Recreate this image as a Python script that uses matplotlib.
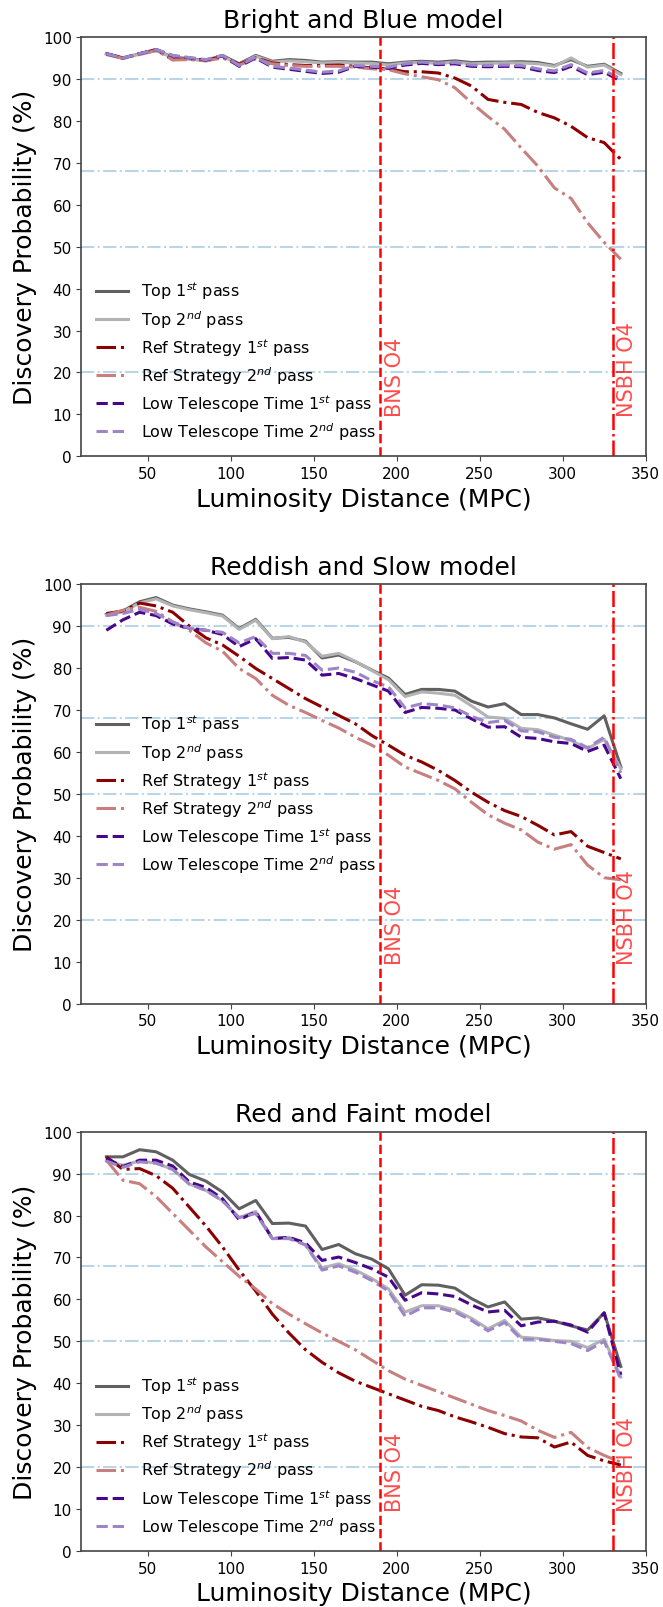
import matplotlib
matplotlib.use("Agg")
import matplotlib.pyplot as plt

# luminosity distance bins (MPC)
distance = [25, 35, 45, 55, 65, 75, 85, 95, 105, 115, 125, 135, 145, 155, 165, 175,
            185, 195, 205, 215, 225, 235, 245, 255, 265, 275, 285, 295, 305, 315, 325, 335]

titles = ["Bright and Blue model", "Reddish and Slow model", "Red and Faint model"]

# Bright and Blue
bb_top1 = [96.0, 94.9, 96.0, 96.8, 95.2, 94.8, 94.4, 95.6, 93.6, 95.6, 94.2, 94.6, 94.4, 94.0, 94.1, 94.0,
           94.0, 93.6, 94.0, 94.2, 94.0, 94.3, 93.9, 94.0, 94.0, 94.1, 93.9, 93.2, 94.6, 93.0, 93.5, 91.3]
bb_top2 = [95.9, 94.9, 95.9, 96.7, 95.1, 94.7, 94.3, 95.4, 93.4, 95.4, 94.0, 94.3, 94.1, 93.8, 93.9, 93.8,
           93.7, 93.3, 93.8, 93.9, 93.7, 94.0, 93.6, 93.7, 93.8, 93.8, 93.6, 93.0, 95.0, 92.8, 93.3, 91.0]
bb_ref1 = [96.0, 95.0, 96.0, 97.0, 94.6, 94.8, 94.5, 95.2, 93.5, 95.0, 93.8, 93.4, 93.2, 93.2, 93.3, 93.0,
           92.6, 92.4, 91.7, 91.7, 91.4, 90.2, 88.3, 85.1, 84.4, 83.9, 82.0, 80.7, 78.7, 76.0, 74.8, 70.8]
bb_ref2 = [95.8, 94.9, 95.8, 96.8, 94.5, 94.6, 94.3, 95.0, 93.3, 94.8, 93.6, 93.2, 93.0, 93.0, 93.0, 92.8,
           92.4, 92.2, 91.2, 90.5, 89.8, 87.9, 84.3, 81.0, 78.0, 73.5, 69.2, 64.0, 61.5, 55.7, 51.0, 47.0]
bb_low1 = [96.0, 95.0, 96.0, 97.0, 95.5, 95.0, 94.5, 95.5, 93.0, 95.0, 92.8, 92.3, 91.8, 91.3, 91.6, 93.0,
           92.8, 92.5, 93.3, 93.7, 93.4, 93.6, 93.0, 92.9, 93.0, 92.9, 92.0, 91.5, 93.0, 91.0, 91.6, 89.5]
bb_low2 = [96.0, 95.0, 96.0, 97.0, 95.6, 95.1, 94.6, 95.6, 93.2, 95.2, 93.0, 92.6, 92.1, 91.6, 91.9, 93.2,
           93.0, 92.8, 93.6, 94.0, 93.7, 93.9, 93.3, 93.2, 93.3, 93.2, 92.4, 91.9, 93.4, 91.4, 92.0, 90.0]

# Reddish and Slow
rs_top1 = [92.8, 93.6, 95.8, 96.8, 95.0, 94.1, 93.4, 92.6, 89.4, 91.6, 87.1, 87.3, 86.4, 82.4, 83.1, 81.5,
           79.5, 77.6, 73.7, 74.9, 74.9, 74.5, 72.1, 70.7, 71.5, 68.9, 68.9, 68.1, 66.7, 65.4, 68.6, 56.4]
rs_top2 = [92.6, 93.4, 95.5, 96.5, 94.8, 93.9, 93.2, 92.4, 89.2, 91.4, 87.0, 87.5, 86.2, 82.8, 83.5, 81.6,
           79.4, 77.2, 73.2, 74.3, 74.0, 73.5, 71.0, 68.3, 68.0, 65.6, 65.3, 64.0, 62.7, 60.8, 63.0, 56.0]
rs_ref1 = [93.0, 93.6, 95.5, 94.8, 93.3, 90.0, 87.2, 85.5, 82.8, 79.9, 77.5, 75.1, 72.7, 70.7, 68.7, 66.7,
           63.9, 61.6, 59.2, 57.6, 55.6, 53.2, 50.4, 48.0, 46.0, 44.6, 42.5, 40.2, 41.0, 37.5, 36.0, 34.5]
rs_ref2 = [92.6, 93.8, 94.5, 93.5, 91.0, 89.0, 86.0, 84.0, 79.9, 77.5, 73.5, 71.1, 69.4, 67.5, 65.7, 63.5,
           61.6, 59.2, 56.4, 54.8, 53.2, 51.2, 48.0, 45.0, 43.0, 41.4, 38.5, 36.8, 37.9, 33.0, 30.0, 29.5]
rs_low1 = [89.0, 91.5, 93.3, 92.5, 90.5, 89.5, 89.0, 88.0, 85.1, 87.0, 82.3, 82.5, 81.9, 78.3, 78.7, 77.5,
           76.0, 74.5, 69.4, 70.6, 70.4, 70.0, 67.9, 65.9, 66.0, 63.5, 63.2, 62.4, 62.0, 60.1, 61.6, 53.6]
rs_low2 = [92.5, 93.0, 94.0, 93.0, 91.0, 89.5, 89.0, 88.5, 86.0, 87.5, 83.5, 83.5, 83.0, 79.5, 80.0, 79.0,
           77.0, 75.5, 70.5, 71.5, 71.2, 70.5, 68.5, 67.0, 67.5, 65.0, 64.8, 63.5, 63.0, 61.0, 63.5, 55.0]

# Red and Faint
rf_top1 = [94.0, 94.0, 95.7, 95.2, 93.2, 89.8, 88.2, 85.6, 81.6, 83.6, 78.1, 78.2, 77.5, 71.9, 73.1, 70.9,
           69.6, 67.3, 61.0, 63.5, 63.4, 62.7, 60.2, 58.2, 59.4, 55.3, 55.6, 54.8, 53.7, 52.7, 56.8, 44.0]
rf_top2 = [93.0, 92.0, 93.0, 92.5, 91.0, 87.5, 86.0, 83.5, 79.5, 81.0, 74.5, 74.8, 73.0, 67.5, 68.5, 67.0,
           65.0, 62.5, 57.0, 58.5, 58.5, 57.5, 55.5, 53.0, 55.0, 51.0, 50.7, 50.2, 50.0, 48.5, 50.5, 41.5]
rf_ref1 = [94.0, 91.0, 91.2, 89.5, 86.5, 82.0, 77.5, 72.5, 67.0, 62.0, 56.5, 52.0, 48.0, 45.0, 42.5, 40.5,
           39.0, 37.5, 36.0, 34.5, 33.5, 32.0, 30.8, 29.5, 28.0, 27.2, 27.0, 24.8, 26.0, 22.8, 21.5, 20.5]
rf_ref2 = [93.2, 88.4, 87.6, 84.5, 80.5, 76.5, 72.5, 69.0, 65.5, 62.5, 59.0, 56.5, 54.2, 52.0, 50.0, 48.0,
           45.5, 43.0, 41.0, 39.5, 38.0, 36.5, 35.0, 33.5, 32.3, 31.0, 28.8, 27.1, 28.3, 24.7, 22.8, 21.2]
rf_low1 = [93.6, 91.7, 93.2, 93.2, 91.8, 88.0, 86.7, 84.0, 79.0, 80.9, 74.5, 74.8, 73.5, 69.3, 70.1, 68.8,
           67.3, 65.3, 59.8, 61.6, 61.3, 60.7, 58.7, 57.0, 57.4, 53.7, 54.6, 54.8, 53.9, 52.2, 56.8, 42.0]
rf_low2 = [93.0, 91.5, 92.8, 92.5, 91.0, 87.5, 86.0, 83.5, 79.5, 80.5, 74.5, 74.5, 73.0, 67.0, 68.0, 66.5,
           64.5, 62.0, 56.0, 58.0, 58.0, 57.0, 55.0, 52.5, 54.5, 50.5, 50.5, 50.0, 49.5, 47.8, 50.0, 41.0]

series_labels = ["Top 1$^{st}$ pass", "Top 2$^{nd}$ pass",
                 "Ref Strategy 1$^{st}$ pass", "Ref Strategy 2$^{nd}$ pass",
                 "Low Telescope Time 1$^{st}$ pass", "Low Telescope Time 2$^{nd}$ pass"]
reference_levels = [90, 68, 50, 20]
bns_range = 190
nsbh_range = 330

panels = [
    [bb_top1, bb_top2, bb_ref1, bb_ref2, bb_low1, bb_low2],
    [rs_top1, rs_top2, rs_ref1, rs_ref2, rs_low1, rs_low2],
    [rf_top1, rf_top2, rf_ref1, rf_ref2, rf_low1, rf_low2],
]
legend_locs = ["lower left", "center left", "lower left"]

colors = ["#606060", "#b3b3b3", "#8b0000", "#c77f7f", "#48068a", "#9d86c8"]
styles = ["-", "-", "-.", "-.", "--", "--"]

fig = plt.figure(figsize=(6.63, 16.08), dpi=100)
bottoms = [0.7156, 0.3753, 0.0348]

for k in range(3):
    ax = fig.add_axes([0.1229, bottoms[k], 0.851, 0.2608])
    for lev in reference_levels:
        ax.axhline(lev, color="#1f77b4", alpha=0.3, ls="-.", lw=1.5)
    for s in range(6):
        ax.plot(distance, panels[k][s], color=colors[s], ls=styles[s], lw=2.2,
                label=series_labels[s])
    ax.axvline(bns_range, color="red", ls="--", lw=1.8)
    ax.axvline(nsbh_range, color="red", ls="-.", lw=1.8)
    ax.text(bns_range + 3, 9.5, "BNS O4", rotation=90, color="red", alpha=0.7,
            fontsize=15, ha="left", va="bottom")
    ax.text(nsbh_range + 3, 9.5, "NSBH O4", rotation=90, color="red", alpha=0.7,
            fontsize=15, ha="left", va="bottom")
    ax.set_xlim(10, 350)
    ax.set_ylim(0, 100)
    ax.set_xticks([50, 100, 150, 200, 250, 300, 350])
    ax.set_yticks(range(0, 101, 10))
    ax.tick_params(labelsize=11, color="#444444")
    for sp in ax.spines.values():
        sp.set_color("#444444")
        sp.set_linewidth(1.2)
    ax.set_title(titles[k], fontsize=18, pad=7.5)
    ax.set_xlabel("Luminosity Distance (MPC)", fontsize=18)
    ax.set_ylabel("Discovery Probability (%)", fontsize=18)
    ax.legend(loc=legend_locs[k], fontsize=11.5, frameon=False, labelspacing=0.4)

fig.savefig("out.png", dpi=100)
